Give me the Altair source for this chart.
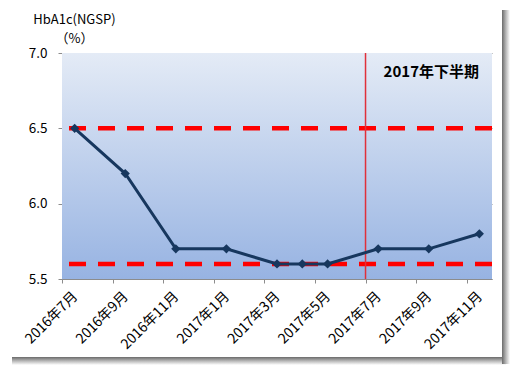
import altair as alt
import pandas as pd

# data (x = months after 2016-07)
months = [0.5, 2.5, 4.5, 6.5, 8.5, 9.5, 10.5, 12.5, 14.5, 16.5]
values = [6.5, 6.2, 5.7, 5.7, 5.6, 5.6, 5.6, 5.7, 5.7, 5.8]
tick_months = [0, 2, 4, 6, 8, 10, 12, 14, 16]
tick_labels = ["2016年7月", "2016年9月", "2016年11月", "2017年1月", "2017年3月",
               "2017年5月", "2017年7月", "2017年9月", "2017年11月"]
y_ticks = [5.5, 6.0, 6.5, 7.0]
x_range = [0, 17]
y_range = [5.5, 7.0]
ref_lines = [6.5, 5.6]
half_start = [12]
annot_text = ["2017年下半期"]
annot_x = [14.6]
annot_y = [6.875]

FONT = "Noto Sans CJK JP"

df = pd.DataFrame({"m": months, "v": values})
ref_df = pd.DataFrame({"v": ref_lines})
vline_df = pd.DataFrame({"m": half_start})
txt_df = pd.DataFrame({"m": annot_x, "v": annot_y, "t": annot_text})
bg_df = pd.DataFrame({"x0": [x_range[0]], "x1": [x_range[1]],
                      "y0": [y_range[0]], "y1": [y_range[1]]})
one_df = pd.DataFrame({"k": [0]})

label_expr = "[" + ",".join("'" + t + "'" for t in tick_labels) + "][round(datum.value/2)]"

xscale = alt.Scale(domain=x_range, nice=False, zero=False)
yscale = alt.Scale(domain=y_range, nice=False, zero=False)

x_axis = alt.Axis(values=tick_months, labelExpr=label_expr, labelAngle=-45,
                  labelAlign="right", labelBaseline="middle", labelOffset=13,
                  labelPadding=11, tickSize=4, grid=False, domainColor="#8c8c8c",
                  tickColor="#8c8c8c", title=None, labelFont=FONT, labelFontSize=14,
                  labelColor="#000000", labelFlush=False, labelOverlap=False,
                  labelBound=False)
y_axis = alt.Axis(values=y_ticks, format=".1f", grid=True, gridColor="#8c8c8c",
                  gridWidth=1, tickSize=4, tickColor="#8c8c8c", domainColor="#8c8c8c",
                  labelPadding=11, labelFont=FONT, labelFontSize=13.5, labelColor="#000000",
                  title=["HbA1c(NGSP)", "（%）"], titleAngle=0, titleAlign="center",
                  titleX=12, titleY=-40, titleBaseline="top", titleFont=FONT,
                  titleFontWeight="normal", titleFontSize=13, titleColor="#000000",
                  titleLineHeight=19)

gradient = alt.LinearGradient(gradient="linear", x1=0, y1=0, x2=0, y2=1,
                              stops=[alt.GradientStop(color="#e4ebf6", offset=0),
                                     alt.GradientStop(color="#97b3e2", offset=1)])

shadow_r = alt.LinearGradient(gradient="linear", x1=0, y1=0, x2=1, y2=0,
                              stops=[alt.GradientStop(color="#6a6a6a", offset=0),
                                     alt.GradientStop(color="#b8b8b8", offset=0.5),
                                     alt.GradientStop(color="#ffffff", offset=1)])
shadow_b = alt.LinearGradient(gradient="linear", x1=0, y1=0, x2=0, y2=1,
                              stops=[alt.GradientStop(color="#6a6a6a", offset=0),
                                     alt.GradientStop(color="#b8b8b8", offset=0.5),
                                     alt.GradientStop(color="#ffffff", offset=1)])

# frame shadow (decoration, pixel positions relative to the plot area)
shadow_right = alt.Chart(one_df).mark_rect(fill=shadow_r).encode(
    x=alt.value(440), x2=alt.value(448), y=alt.value(-43), y2=alt.value(311))
shadow_bottom = alt.Chart(one_df).mark_rect(fill=shadow_b).encode(
    x=alt.value(-50), x2=alt.value(444), y=alt.value(304), y2=alt.value(312))

bg = alt.Chart(bg_df).mark_rect(fill=gradient).encode(
    x=alt.X("x0:Q", scale=xscale, axis=x_axis), x2="x1:Q",
    y=alt.Y("y0:Q", scale=yscale, axis=y_axis), y2="y1:Q",
)

base = alt.Chart(df)
line = base.mark_line(color="#17375e", strokeWidth=3).encode(x="m:Q", y="v:Q")
points = base.mark_point(shape="diamond", filled=True, size=85, color="#17375e",
                         opacity=1).encode(x="m:Q", y="v:Q")

refs = alt.Chart(ref_df).mark_rule(color="#ff0000", strokeWidth=4.5,
                                   strokeDash=[17, 12]).encode(y="v:Q")
vline = alt.Chart(vline_df).mark_rule(color="#e0303a", strokeWidth=1.5).encode(x="m:Q")
txt = alt.Chart(txt_df).mark_text(font=FONT, fontSize=15, fontWeight="bold",
                                  color="#000000", align="center",
                                  baseline="middle").encode(x="m:Q", y="v:Q", text="t:N")

chart = alt.layer(shadow_bottom, shadow_right, bg, refs, vline, line, points, txt).properties(
    width=430, height=226,
    padding={"left": 54, "top": 45, "right": 18, "bottom": 86},
    autosize="none",
    background="#ffffff",
).configure_view(stroke=None)

chart.save("out.html", embed_options={"renderer": "svg", "actions": False})
